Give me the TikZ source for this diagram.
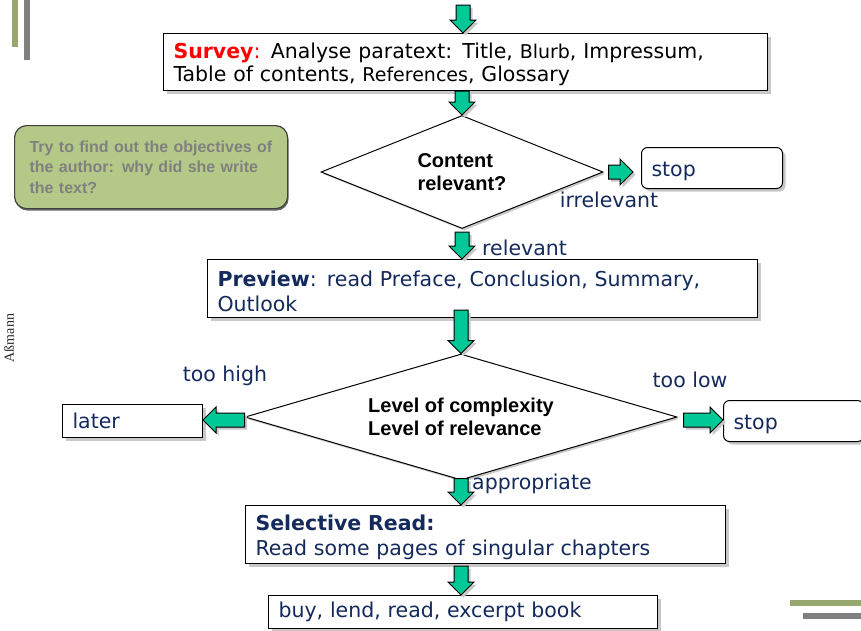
\documentclass[tikz,border=0pt]{standalone}
\usepackage{fontspec}
\setmainfont{DejaVu Sans}
\newfontfamily\arialfont{Liberation Sans}
\newfontfamily\serifont{Liberation Serif}
\usetikzlibrary{shapes.geometric,calc,shadows}

\definecolor{arrowgreen}{RGB}{0,200,150}
\definecolor{notegreen}{RGB}{180,201,136}
\definecolor{notetext}{RGB}{128,128,128}
\definecolor{bargreen}{RGB}{150,168,110}
\definecolor{bargray}{RGB}{128,128,128}
\definecolor{navy}{RGB}{20,42,92}
\definecolor{shadowgray}{RGB}{200,200,200}

\tikzset{
  box/.style={draw, line width=1pt, fill=white, anchor=north west,
    inner xsep=10pt, inner ysep=0pt, align=left, text=navy,
    font=\fontsize{20.5}{24.5}\selectfont,
    drop shadow={shadow xshift=3pt, shadow yshift=-3pt, fill=shadowgray, opacity=1}},
  stopbox/.style={box, rounded corners=6pt},
  decision/.style={diamond, draw, line width=1pt, fill=white, inner sep=0pt,
    align=left, font=\arialfont\bfseries\fontsize{20}{23}\selectfont,
    drop shadow={shadow xshift=2pt, shadow yshift=-2pt, fill=shadowgray, opacity=1}},
  note/.style={draw=black!75, line width=1.2pt, fill=notegreen, rounded corners=12pt,
    anchor=north west, inner xsep=15pt, inner ysep=0pt, align=left, text=notetext,
    font=\arialfont\bfseries\fontsize{16}{20.5}\selectfont,
    drop shadow={shadow xshift=1pt, shadow yshift=-2pt, fill=black!60, opacity=1}},
  lbl/.style={text=navy, font=\fontsize{20.5}{24}\selectfont, inner sep=0pt},
  arrowbody/.style={draw=black, line width=1pt, fill=arrowgreen, line join=miter},
}

% fat green arrow from #1 to #2
\newcommand\blockarrow[2]{%
  \path let \p1=(#1), \p2=(#2) in \pgfextra{%
    \pgfmathparse{atan2(\y2-\y1,\x2-\x1)}\xdef\arrowangle{\pgfmathresult}%
    \pgfmathparse{veclen(\x2-\x1,\y2-\y1)}\xdef\arrowlength{\pgfmathresult}%
    \xdef\arrowx{\x1}\xdef\arrowy{\y1}};
  \begin{scope}[shift={(\arrowx+2.5pt,\arrowy-2.5pt)}, rotate=\arrowangle]
    \fill[shadowgray] (0,-7) -- ({\arrowlength-13},-7) -- ({\arrowlength-13},-13) -- (\arrowlength,0)
      -- ({\arrowlength-13},13) -- ({\arrowlength-13},7) -- (0,7) -- cycle;
  \end{scope}
  \begin{scope}[shift={(\arrowx,\arrowy)}, rotate=\arrowangle]
    \draw[arrowbody] (0,-7) -- ({\arrowlength-13},-7) -- ({\arrowlength-13},-13) -- (\arrowlength,0)
      -- ({\arrowlength-13},13) -- ({\arrowlength-13},7) -- (0,7) -- cycle;
  \end{scope}}

\begin{document}
\begin{tikzpicture}[x=1pt,y=-1pt]
    \useasboundingbox (0,0) rectangle (861,630);

    % bars in the corners
    \fill[bargreen] (12,0) rectangle (18,47);
    \fill[bargray] (24,0) rectangle (30,60);
    \fill[bargreen] (790,600) rectangle (861,606);
    \fill[bargray] (803,613) rectangle (861,619);

    % author
    \node[rotate=90, font=\serifont\fontsize{14}{16}\selectfont, text=black!85] (author) at (9,338) {Aßmann};

    % Survey
    \coordinate (entry) at (463,5);
    \node[box, text=black, font=\fontsize{20.5}{23}\selectfont, text width=584pt, minimum height=57pt] (survey) at (163,33)
      {\rule{0pt}{21pt}{\color{red}\bfseries Survey}{\color{red}:} Analyse paratext: Title, {\fontsize{19}{23}\selectfont Blurb}, Impressum,\\
       Table of contents, {\fontsize{19}{23}\selectfont References}, Glossary};

    % hint
    \node[note, text width=243pt, minimum height=83pt] (hint) at (14,125)
      {Try to find out the objectives of\\the author: why did she write\\the text?};

    % first decision
    \node[decision, aspect=2.5, minimum width=282pt, minimum height=113pt] (cont) at (462,172) {Content\\relevant?};
    \node[stopbox, text width=121pt, minimum height=41pt] (stopa) at (641,147) {\rule{0pt}{21pt}stop};
    \node[lbl] (irr) at (609,200) {irrelevant};
    \node[lbl, anchor=west] (rel) at (482,248) {relevant};

    % Preview
    \node[box, text width=530pt, minimum height=58pt] (preview) at (207,259)
      {\rule{0pt}{21pt}\textbf{Preview}: read Preface, Conclusion, Summary,\\Outlook};

    % second decision
    \node[decision, aspect=3.4, minimum width=432pt, minimum height=126pt] (level) at (461,417)
      {Level of complexity\\Level of relevance};
    \node[box, text width=120pt, minimum height=33pt] (later) at (62,404) {later};
    \node[stopbox, text width=120pt, minimum height=41pt] (stopb) at (723,400) {\rule{0pt}{21pt}stop};
    \node[lbl] (high) at (225,376) {too high};
    \node[lbl] (low) at (690,380) {too low};
    \node[lbl, anchor=west] (appr) at (472,484) {appropriate};

    % Selective Read
    \node[box, text width=460pt, minimum height=58pt] (select) at (245,505)
      {\rule{0pt}{21pt}\textbf{Selective Read:}\\Read some pages of singular chapters};
    \node[box, text width=369pt, minimum height=33pt] (result) at (268,595) {buy, lend, read, excerpt book};

    % arrows
    \blockarrow{entry}{entry |- survey.north}
    \blockarrow{cont.north |- survey.south}{cont.north}
    \blockarrow{$(cont.east)+(5,0)$}{$(cont.east -| stopa.west)+(-8,0)$}
    \blockarrow{$(cont.south)+(0,3)$}{cont.south |- preview.north}
    \blockarrow{$(level.north |- preview.south)+(0,-8)$}{level.north}
    \blockarrow{$(level.west)+(0,3)$}{$(later.east |- level.west)+(0,3)$}
    \blockarrow{$(level.east)+(6,3)$}{$(stopb.west |- level.east)+(0,3)$}
    \blockarrow{$(level.south)+(0,-2)$}{level.south |- select.north}
    \blockarrow{$(level.south |- select.south)+(0,2)$}{level.south |- result.north}
\end{tikzpicture}
\end{document}
